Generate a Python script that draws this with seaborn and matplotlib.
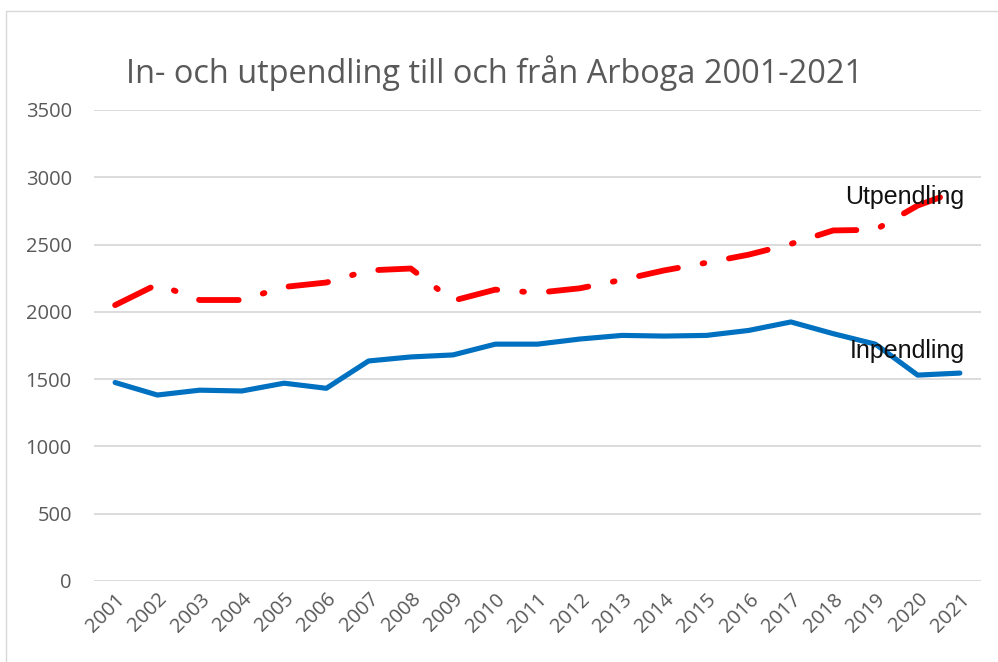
import matplotlib
matplotlib.use("Agg")
import matplotlib.pyplot as plt
import seaborn as sns
import pandas as pd
from matplotlib.lines import Line2D

years = list(range(2001, 2022))
inpendling = [1475, 1382, 1418, 1412, 1470, 1432, 1635, 1665, 1680, 1760, 1760,
              1798, 1825, 1820, 1825, 1862, 1925, 1838, 1760, 1530, 1545]
utpendling = [2050, 2205, 2088, 2088, 2185, 2218, 2308, 2322, 2083, 2165, 2142,
              2175, 2238, 2308, 2365, 2425, 2505, 2605, 2610, 2790, 2905]
title = "In- och utpendling till och från Arboga 2001-2021"
yticks = [0, 500, 1000, 1500, 2000, 2500, 3000, 3500]

sns.set_theme(style="white")
plt.rcParams['font.family'] = ['Open Sans', 'DejaVu Sans']

df = pd.DataFrame({"År": years, "Inpendling": inpendling, "Utpendling": utpendling})

fig = plt.figure(figsize=(9.98, 6.62), dpi=100)
W, H = 998, 662
ax = fig.add_axes([94 / W, 1 - 581 / H, (981 - 94) / W, (581 - 110) / H])

sns.lineplot(data=df, x="År", y="Inpendling", ax=ax, color="#0070C0",
             linewidth=3.7, solid_capstyle="round")
sns.lineplot(data=df, x="År", y="Utpendling", ax=ax, color="#FF0000",
             linewidth=4.2)
red = ax.get_lines()[-1]
red.set_dashes([6.8, 4.3, 0.3, 4.3])
red.set_dash_capstyle("round")

ax.set_xlim(2000.5, 2021.5)
ax.set_ylim(0, 3500)
ax.set_yticks(yticks)
ax.set_yticklabels([str(v) for v in yticks])
ax.set_xticks(years)
ax.set_xticklabels([str(y) for y in years], rotation=45, ha="right",
                   rotation_mode="anchor")
ax.tick_params(axis="both", length=0, labelsize=14.5, colors="#595959")
ax.tick_params(axis="y", pad=16)
ax.tick_params(axis="x", pad=6)
ax.set_xlabel("")
ax.set_ylabel("")
for s in ax.spines.values():
    s.set_visible(False)
ax.yaxis.grid(True, color="#d9d9d9", linewidth=1.3)
ax.xaxis.grid(False)
ax.set_axisbelow(True)

ax.text(2019.7, 2853, "Utpendling", ha="center", va="center", fontsize=18,
        color="#111111", family=["Liberation Sans Narrow", "Liberation Sans", "DejaVu Sans"])
ax.text(2019.75, 1709, "Inpendling", ha="center", va="center", fontsize=18,
        color="#111111", family=["Liberation Sans Narrow", "Liberation Sans", "DejaVu Sans"])

fig.text(495 / W, 1 - 73 / H, title, ha="center", va="center", fontsize=23.4,
         color="#595959")

# chart area border (top and left visible)
fig.add_artist(Line2D([6 / W, 1], [1 - 11 / H, 1 - 11 / H], transform=fig.transFigure,
                      color="#d9d9d9", linewidth=1.0))
fig.add_artist(Line2D([6 / W, 6 / W], [0, 1 - 11 / H], transform=fig.transFigure,
                      color="#d9d9d9", linewidth=1.0))

fig.savefig("out.png", dpi=100)
